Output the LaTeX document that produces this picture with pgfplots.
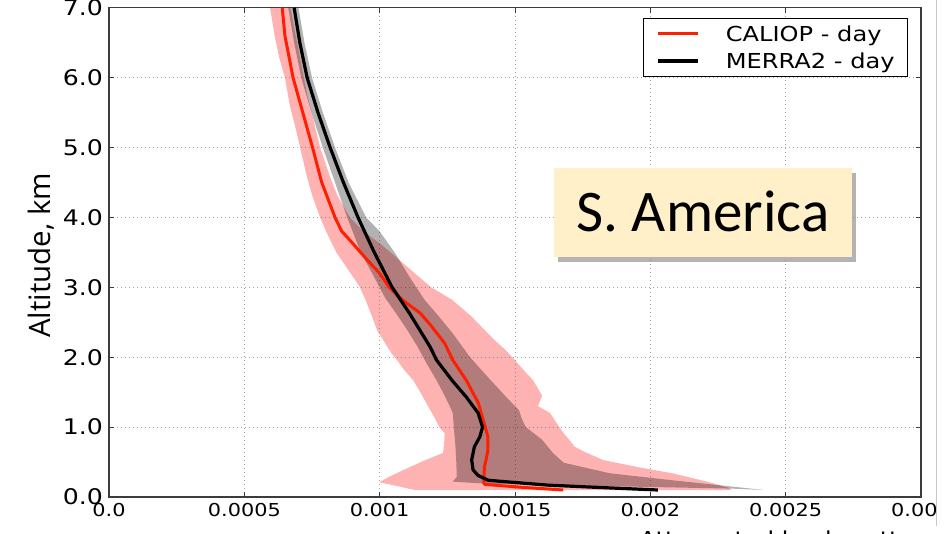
\documentclass[border=0pt]{standalone}
\usepackage{pgfplots}
\pgfplotsset{compat=1.18}
\usepackage{fontspec}
\usetikzlibrary{shadows}
\setmainfont{DejaVu Sans}[FakeStretch=1.17]
\newfontfamily\ylabfont{Open Sans}
\newfontfamily\calfont{Carlito}
\definecolor{caliop}{RGB}{255,30,0}
\definecolor{cream}{RGB}{255,240,202}
\definecolor{axisgray}{RGB}{60,60,60}
\definecolor{gridgray}{RGB}{165,165,165}
\begin{document}
\begin{tikzpicture}
\path[use as bounding box] (-109pt,-37pt) rectangle (839pt,497pt);
\begin{scope}
\clip (-109pt,-37pt) rectangle (827pt,497pt);
\begin{axis}[
  at={(0pt,0pt)}, anchor=south west,
  scale only axis, width=812pt, height=489.3pt,
  xmin=0, xmax=0.003, ymin=0, ymax=7,
  scaled x ticks=false,
  xtick={0,0.0005,0.001,0.0015,0.002,0.0025,0.003},
  xticklabels={0.0,0.0005,0.001,0.0015,0.002,0.0025,0.003},
  ytick={0,1,2,3,4,5,6,7},
  yticklabels={0.0,1.0,2.0,3.0,4.0,5.0,6.0,7.0},
  /pgf/number format/assume math mode=true,
  xticklabel style={font=\fontsize{17.8}{20}\selectfont, inner sep=0pt, anchor=north, yshift=-6pt},
  yticklabel style={font=\fontsize{21.5}{24}\selectfont, inner sep=0pt, anchor=east, xshift=-6pt},
  grid=major,
  major grid style={gridgray, line width=0.9pt, dash pattern=on 1pt off 3pt},
  tick align=inside, major tick length=5pt,
  tick style={axisgray, line width=1pt},
  axis line style={axisgray, line width=1.6pt},
  legend style={at={(0.984,0.979)}, anchor=north east, draw=black, line width=0.8pt,
    font=\fontsize{20.6}{24}\selectfont, inner xsep=13pt, inner ysep=7pt,
    nodes={inner sep=0pt}, column sep=26pt, row sep=10pt},
  legend cell align=left,
  legend image code/.code={\draw[#1] (0pt,0pt) -- (40pt,0pt);},
]
% CALIOP band
\addplot[forget plot, draw=none, fill=red, fill opacity=0.3] coordinates {
(0.000595,7.0) (0.000612,6.6) (0.000628,6.3) (0.000650,6.0) (0.000668,5.6)
(0.000688,5.3) (0.000706,5.0) (0.000730,4.6) (0.000752,4.3) (0.000780,4.0)
(0.000808,3.75) (0.000840,3.5) (0.000875,3.3) (0.000910,3.1) (0.000927,3.0)
(0.000950,2.8) (0.000975,2.55) (0.000990,2.39) (0.001020,2.2) (0.001045,2.05)
(0.001064,1.96) (0.001090,1.82) (0.001124,1.67) (0.001150,1.5) (0.001180,1.29)
(0.001205,1.12) (0.001220,1.0) (0.001240,0.91) (0.001238,0.75) (0.001234,0.63)
(0.001170,0.53) (0.001090,0.39) (0.001030,0.28) (0.000998,0.21) (0.001060,0.16)
(0.001130,0.10)
(0.002300,0.10) (0.002290,0.13) (0.002210,0.22) (0.002080,0.34) (0.001950,0.43)
(0.001825,0.53) (0.001760,0.64) (0.001720,0.72) (0.001700,0.82) (0.001680,0.91)
(0.001655,1.05) (0.001630,1.2) (0.001585,1.3) (0.001600,1.45) (0.001567,1.67)
(0.001540,1.78) (0.001490,2.0) (0.001460,2.12) (0.001423,2.25) (0.001380,2.42)
(0.001340,2.58) (0.001268,2.82) (0.001190,3.0) (0.001130,3.2) (0.001070,3.4)
(0.001010,3.6) (0.000940,3.8) (0.000890,4.0) (0.000845,4.3) (0.000815,4.6)
(0.000780,5.0) (0.000755,5.4) (0.000735,5.7) (0.000720,6.0) (0.000700,6.4)
(0.000670,7.0)
};
% MERRA2 band
\addplot[forget plot, draw=none, fill=black, fill opacity=0.3] coordinates {
(0.000662,7.0) (0.000684,6.5) (0.000710,6.0) (0.000748,5.5) (0.000790,5.0)
(0.000835,4.5) (0.000880,4.0) (0.000930,3.5) (0.000986,3.1) (0.001020,2.85)
(0.001060,2.63) (0.001100,2.4) (0.001140,2.15) (0.001175,1.9) (0.001210,1.67)
(0.001240,1.45) (0.001260,1.29) (0.001270,1.2) (0.001275,0.95) (0.001280,0.72)
(0.001283,0.5) (0.001285,0.29) (0.001270,0.22)
(0.001390,0.19) (0.002300,0.12) (0.002420,0.10)
(0.002300,0.15) (0.002080,0.24) (0.001850,0.34) (0.001680,0.49) (0.001640,0.63)
(0.001600,0.82) (0.001540,1.0) (0.001525,1.12) (0.001515,1.24) (0.001470,1.42)
(0.001420,1.63) (0.001380,1.8) (0.001334,2.0) (0.001300,2.18) (0.001268,2.35)
(0.001215,2.6) (0.001166,2.82) (0.001110,3.15) (0.001055,3.5) (0.001000,3.8)
(0.000950,4.0) (0.000885,4.5) (0.000835,5.0) (0.000790,5.5) (0.000750,6.0)
(0.000722,6.5) (0.000700,7.0)
};
% CALIOP mean
\addplot[caliop, line width=3pt] coordinates {
(0.000640,7.0) (0.000650,6.6) (0.000680,6.0) (0.000716,5.5) (0.000752,5.0)
(0.000786,4.5) (0.000835,4.0) (0.000860,3.8) (0.000884,3.7) (0.000952,3.4)
(0.001000,3.2) (0.001035,3.0) (0.001090,2.8) (0.001150,2.63) (0.001190,2.45)
(0.001240,2.2) (0.001270,1.96) (0.001320,1.67) (0.001365,1.34) (0.001390,1.0)
(0.001400,0.86) (0.001400,0.67) (0.001393,0.53) (0.001387,0.43) (0.001385,0.24)
(0.001385,0.20) (0.001390,0.18) (0.001520,0.14) (0.001678,0.10)
};
\addlegendentry{CALIOP - day}
% MERRA2 mean
\addplot[black, line width=3.2pt] coordinates {
(0.000684,7.0) (0.000705,6.5) (0.000732,6.0) (0.000772,5.5) (0.000817,5.0)
(0.000866,4.5) (0.000920,4.0) (0.000980,3.5) (0.001046,3.0) (0.001110,2.63)
(0.001186,2.15) (0.001210,1.96) (0.001267,1.67) (0.001320,1.43) (0.001364,1.2)
(0.001380,1.0) (0.001370,0.86) (0.001350,0.72) (0.001340,0.53) (0.001345,0.39)
(0.001363,0.31) (0.001400,0.24) (0.001460,0.22) (0.001620,0.17) (0.001790,0.14)
(0.002028,0.10)
};
\addlegendentry{MERRA2 - day}
\end{axis}
\node[rotate=90, anchor=base, font=\ylabfont\fontsize{29.5}{32}\selectfont] at (-58pt,241.5pt) {Altitude, km};
\node[anchor=base west, font=\fontsize{20.6}{24}\selectfont] at (527pt,-50pt) {Attenuated backscatter};
\node[fill=cream, drop shadow={shadow xshift=4pt, shadow yshift=-5pt, fill=black!50, opacity=0.6},
  minimum width=298pt, minimum height=89pt, inner sep=0pt, text height=38pt, text depth=0pt,
  font=\calfont\fontsize{59}{60}\selectfont] at (594pt,284.5pt) {S. America};
\end{scope}
\draw[gray!45, line width=1pt] (827pt,497pt) -- (827pt,-29pt);
\end{tikzpicture}
\end{document}
